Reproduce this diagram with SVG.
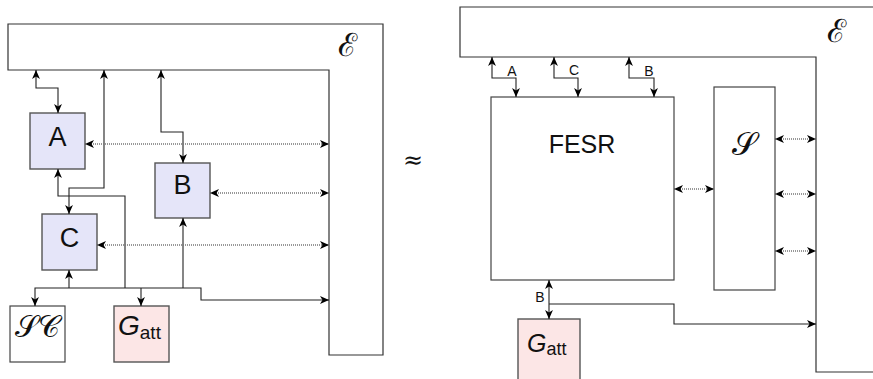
<svg xmlns="http://www.w3.org/2000/svg" width="873" height="379" viewBox="0 0 873 379">
<style>
.frame{fill:#fff;stroke:#333;stroke-width:1.2}
.blue{fill:#e5e5f9;stroke:#555;stroke-width:1.4}
.pink{fill:#fce6e6;stroke:#555;stroke-width:1.4}
.plain{fill:#fff;stroke:#444;stroke-width:1.2}
.wire{fill:none;stroke:#222;stroke-width:1.1}
.dot{fill:none;stroke:#777;stroke-width:1.3;stroke-dasharray:1 1}
.sans{font-family:"Liberation Sans","DejaVu Sans",sans-serif;fill:#111}
.scr{font-family:"DejaVu Serif","Liberation Serif",serif;fill:#111}
.ital{font-family:"Liberation Sans","DejaVu Sans",sans-serif;font-style:italic;fill:#111}
</style>
<defs>
<marker id="ar" viewBox="0 0 8 7" refX="8" refY="3.5" markerWidth="9" markerHeight="8" markerUnits="userSpaceOnUse" orient="auto-start-reverse">
<path d="M0,0 L8,3.5 L0,7 L2.2,3.5 Z" fill="#000"/>
</marker>
</defs>

<!-- Left panel -->
<g id="env-left">
<path class="frame" d="M8,24 H383 V355 H329 V70 H8 Z"/>
<text class="scr" x="347" y="56" font-size="32" text-anchor="middle">ℰ</text>
</g>
<g id="nodeA"><rect class="blue" x="30" y="113" width="55" height="56"/><text class="sans" x="57.5" y="146" font-size="27" text-anchor="middle">A</text></g>
<g id="nodeB"><rect class="blue" x="155" y="163" width="55" height="55"/><text class="sans" x="182.5" y="194" font-size="27" text-anchor="middle">B</text></g>
<g id="nodeC"><rect class="blue" x="42" y="214" width="55" height="56"/><text class="sans" x="69.5" y="247" font-size="27" text-anchor="middle">C</text></g>
<g id="nodeSC"><rect class="plain" x="10" y="306" width="55" height="56"/><text class="scr" x="37" y="337" font-size="30" text-anchor="middle">𝒮𝒞</text></g>
<g id="nodeGatt"><rect class="pink" x="114" y="306" width="55" height="56"/><text x="118" y="335"><tspan class="ital" font-size="28">G</tspan><tspan class="sans" font-size="19" dy="4">att</tspan></text></g>

<text class="scr" x="413" y="168" font-size="24" text-anchor="middle">≈</text>

<!-- Right panel -->
<g id="env-right">
<path class="frame" d="M460,7 H890 V372 H816 V57 H460 Z"/>
<text class="scr" x="836" y="42" font-size="32" text-anchor="middle">ℰ</text>
</g>
<g id="nodeFESR"><rect class="plain" x="491" y="97" width="183" height="183"/><text class="sans" x="582" y="153" font-size="25" text-anchor="middle">FESR</text></g>
<g id="nodeS"><rect class="plain" x="714" y="87" width="61" height="203"/><text class="scr" x="744" y="155" font-size="32" text-anchor="middle">𝒮</text></g>
<g id="nodeGatt2"><rect class="pink" x="518" y="319" width="62" height="70"/><text x="527" y="352"><tspan class="ital" font-size="25">G</tspan><tspan class="sans" font-size="18" dy="3">att</tspan></text></g>

<g id="connectors">
<!-- left -->
<path class="wire" d="M36,70 V88 H58 V113" marker-start="url(#ar)" marker-end="url(#ar)"/>
<path class="wire" d="M104,70 V188 H69 V214" marker-start="url(#ar)" marker-end="url(#ar)"/>
<path class="wire" d="M161,70 V132 H183 V163" marker-start="url(#ar)" marker-end="url(#ar)"/>
<path class="wire" d="M58,169 V196 H125 V288" marker-start="url(#ar)"/>
<path class="wire" d="M35,306 V288 H201 V300 H329" marker-start="url(#ar)" marker-end="url(#ar)"/>
<path class="wire" d="M69,270 V288" marker-start="url(#ar)"/>
<path class="wire" d="M141,288 V306" marker-end="url(#ar)"/>
<path class="wire" d="M183,218 V288" marker-start="url(#ar)"/>
<path class="dot" d="M85,144 H329" marker-start="url(#ar)" marker-end="url(#ar)"/>
<path class="dot" d="M210,193 H329" marker-start="url(#ar)" marker-end="url(#ar)"/>
<path class="dot" d="M97,245 H329" marker-start="url(#ar)" marker-end="url(#ar)"/>
<!-- right -->
<path class="wire" d="M492,57 V78 H516 V97" marker-start="url(#ar)" marker-end="url(#ar)"/>
<path class="wire" d="M554,57 V78 H578 V97" marker-start="url(#ar)" marker-end="url(#ar)"/>
<path class="wire" d="M629,57 V78 H654 V97" marker-start="url(#ar)" marker-end="url(#ar)"/>
<text class="sans" x="512" y="76" font-size="14" text-anchor="middle">A</text>
<text class="sans" x="574" y="75" font-size="14" text-anchor="middle">C</text>
<text class="sans" x="649" y="76" font-size="14" text-anchor="middle">B</text>
<path class="wire" d="M549,280 V319" marker-start="url(#ar)" marker-end="url(#ar)"/>
<path class="wire" d="M549,304 H674 V324 H816" marker-end="url(#ar)"/>
<text class="sans" x="540" y="302" font-size="14" text-anchor="middle">B</text>
<path class="dot" d="M674,189 H714" marker-start="url(#ar)" marker-end="url(#ar)"/>
<path class="dot" d="M775,139 H816" marker-start="url(#ar)" marker-end="url(#ar)"/>
<path class="dot" d="M775,194 H816" marker-start="url(#ar)" marker-end="url(#ar)"/>
<path class="dot" d="M775,251 H816" marker-start="url(#ar)" marker-end="url(#ar)"/>
</g>
</svg>
